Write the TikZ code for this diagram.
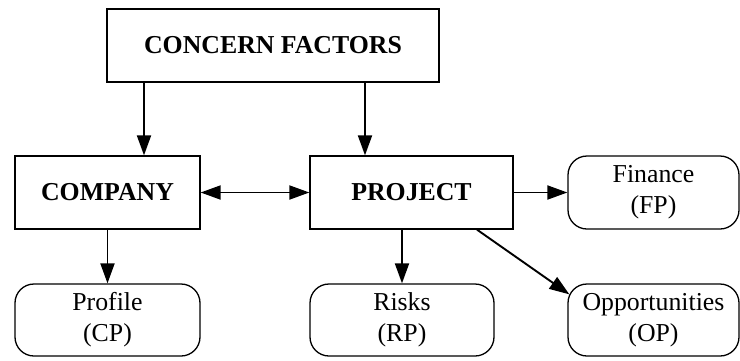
\documentclass[tikz,border=0pt]{standalone}
\usepackage{fontspec}
\setmainfont{Liberation Serif}
\usetikzlibrary{arrows.meta,calc}
\begin{document}
\begin{tikzpicture}[x=1pt,y=-1pt,
  box/.style={draw,line width=1.3pt,inner sep=0pt,align=center,font=\fontsize{25.8}{31}\selectfont\bfseries},
  leaf/.style={draw,line width=1.3pt,rounded corners=19pt,inner sep=0pt,align=center,font=\fontsize{25.8}{31}\selectfont},
  arr/.style={line width=1.9pt,-{Triangle[length=20pt,width=14pt]}},
  darr/.style={line width=1.9pt,{Triangle[length=20pt,width=14pt]}-{Triangle[length=20pt,width=14pt]}}]
\useasboundingbox (0,0) rectangle (740,360);
\node[box,minimum width=332pt,minimum height=73pt] (cf) at (273,45.5) {CONCERN FACTORS};
\node[box,minimum width=185pt,minimum height=73pt] (company) at (107.5,192.5) {COMPANY};
\node[box,minimum width=203pt,minimum height=73pt] (project) at (411.5,192.5) {PROJECT};
\node[leaf,minimum width=171pt,minimum height=73pt] (finance) at (653.5,192.5) {Finance\\(FP)};
\node[leaf,minimum width=185pt,minimum height=72pt] (profile) at (107.5,320) {Profile\\(CP)};
\node[leaf,minimum width=184pt,minimum height=72pt] (risks) at (402,320) {Risks\\(RP)};
\node[leaf,minimum width=171pt,minimum height=72pt] (opp) at (653.5,320) {Opportunities\\(OP)};
\draw[arr] (cf.south -| 144,0) -- (company.north -| 144,0);
\draw[arr] (cf.south -| 365,0) -- (project.north -| 365,0);
\draw[darr] (company.east) -- (project.west);
\draw[arr] (project.east) -- (finance.west);
\draw[arr] (company.south) -- (profile.north);
\draw[arr] (project.south -| risks.north) -- (risks.north);
\draw[arr] (project.south -| 477,0) -- ($(opp.north west)+(2,11)$);
\end{tikzpicture}
\end{document}
